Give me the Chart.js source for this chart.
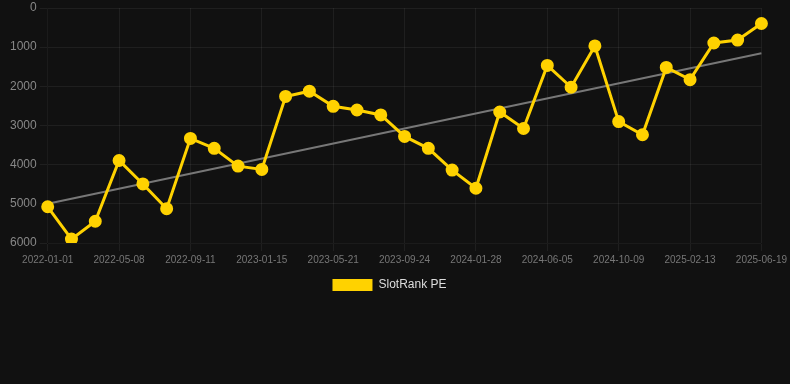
<!DOCTYPE html>
<html>
<head>
<meta charset="utf-8">
<script src="https://cdn.jsdelivr.net/npm/chart.js@4"></script>
<style>
    html, body { margin: 0; padding: 0; background: #111111; }
    .chart-wrap { position: relative; width: 790px; height: 301px; }
</style>
</head>
<body>
<div class="chart-wrap"><canvas id="rankChart"></canvas></div>
<script>
// dates (x categories), every third one is labelled on the axis
const dates = [
    "2022-01-01", "2022-02-12", "2022-03-26", "2022-05-08", "2022-06-19", "2022-07-31",
    "2022-09-11", "2022-10-23", "2022-12-04", "2023-01-15", "2023-02-26", "2023-04-09",
    "2023-05-21", "2023-07-02", "2023-08-13", "2023-09-24", "2023-11-05", "2023-12-17",
    "2024-01-28", "2024-03-10", "2024-04-23", "2024-06-05", "2024-07-17", "2024-08-28",
    "2024-10-09", "2024-11-20", "2025-01-01", "2025-02-13", "2025-03-27", "2025-05-08",
    "2025-06-19"
];

// rank values (lower = better, axis is reversed)
const slotRank = [
    5075, 5900, 5445, 3894, 4492, 5124, 3329, 3582, 4037, 4121,
    2258, 2124, 2511, 2604, 2731, 3279, 3582, 4139, 4602, 2655,
    3077, 1467, 2023, 969, 2900, 3236, 1517, 1829, 894, 818,
    396
];

// trend line: only the two ends, joined across the gaps
const trend = [5000].concat(new Array(29).fill(null), [1155]);

const yTicks = [0, 1000, 2000, 3000, 4000, 5000, 6000];

const gridColor = "rgba(255,255,255,0.06)";

new Chart(document.getElementById("rankChart").getContext("2d"), {
    type: "line",
    data: {
        labels: dates,
        datasets: [
            {
                label: "SlotRank PE",
                data: slotRank,
                borderColor: "#FFD200",
                backgroundColor: "#FFD200",
                borderWidth: 3,
                pointRadius: 5,
                pointBackgroundColor: "#FFD200",
                pointBorderColor: "#FFD200",
                tension: 0,
                order: 1
            },
            {
                label: "trend",
                data: trend,
                borderColor: "#777777",
                borderWidth: 2,
                pointRadius: 0,
                spanGaps: true,
                order: 2
            }
        ]
    },
    options: {
        responsive: true,
        maintainAspectRatio: false,
        animation: false,
        layout: { padding: { left: 7, right: 18 } },
        plugins: {
            legend: {
                position: "bottom",
                labels: {
                    color: "#dddddd",
                    font: { size: 12 },
                    boxWidth: 40,
                    boxHeight: 12,
                    filter: item => item.text !== "trend",
                    generateLabels: function (chart) {
                        const items = Chart.defaults.plugins.legend.labels.generateLabels(chart);
                        items.forEach(it => { it.lineWidth = 0; });
                        return items;
                    }
                }
            },
            tooltip: { enabled: false }
        },
        scales: {
            x: {
                grid: {
                    color: ctx => (ctx.index % 3 === 0 ? gridColor : "transparent")
                },
                ticks: {
                    color: "#777777",
                    font: { size: 10 },
                    maxRotation: 0,
                    autoSkip: false,
                    callback: function (value, index) {
                        return index % 3 === 0 ? dates[index] : "";
                    }
                }
            },
            y: {
                reverse: true,
                min: yTicks[0],
                max: yTicks[yTicks.length - 1],
                grid: { color: gridColor },
                ticks: {
                    stepSize: 1000,
                    color: "#888888",
                    font: { size: 12, lineHeight: 0.5 },
                    callback: value => String(value)
                }
            }
        }
    }
});
</script>
</body>
</html>
